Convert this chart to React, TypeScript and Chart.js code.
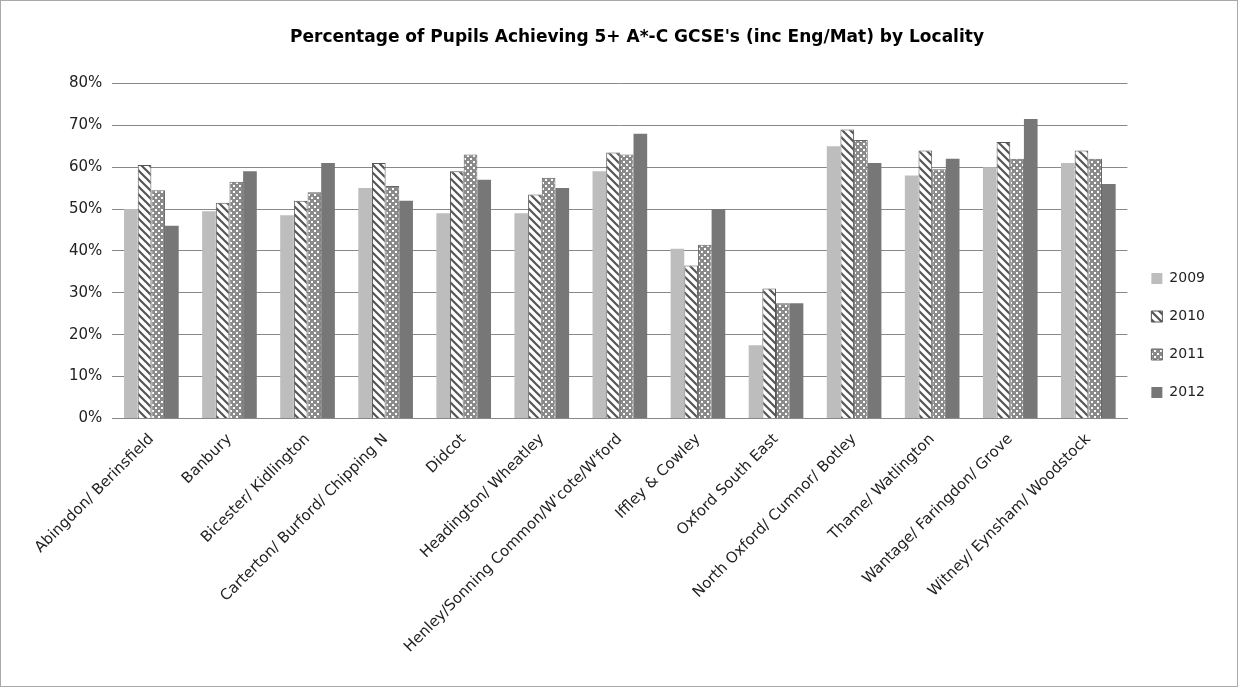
import { useEffect, useRef } from 'react';
import { Chart, registerables } from 'chart.js';

Chart.register(...registerables);

const localities = [
  'Abingdon/ Berinsfield', 'Banbury', 'Bicester/ Kidlington', 'Carterton/ Burford/ Chipping N',
  'Didcot', 'Headington/ Wheatley', 'Henley/Sonning Common/W\'cote/W\'ford', 'Iffley & Cowley',
  'Oxford South East', 'North Oxford/ Cumnor/ Botley', 'Thame/ Watlington',
  'Wantage/ Faringdon/ Grove', 'Witney/ Eynsham/ Woodstock',
];
const y2009 = [50, 49.5, 48.5, 55, 49, 49, 59, 40.5, 17.5, 65, 58, 60, 61];
const y2010 = [60.5, 51.5, 52, 61, 59, 53.5, 63.5, 36.5, 31, 69, 64, 66, 64];
const y2011 = [54.5, 56.5, 54, 55.5, 63, 57.5, 63, 41.5, 27.5, 66.5, 59.5, 62, 62];
const y2012 = [46, 59, 61, 52, 57, 55, 68, 50, 27.5, 61, 62, 71.5, 56];

function stripes(): CanvasPattern | string {
  const c = document.createElement('canvas');
  c.width = 8; c.height = 8;
  const g = c.getContext('2d');
  if (!g) return '#fff';
  g.fillStyle = '#fff';
  g.fillRect(0, 0, 8, 8);
  g.strokeStyle = '#555';
  g.lineWidth = 2.2;
  g.beginPath();
  g.moveTo(-2, -2); g.lineTo(10, 10);
  g.moveTo(-6, 2); g.lineTo(2, 10);
  g.moveTo(6, -2); g.lineTo(14, 6);
  g.stroke();
  return g.createPattern(c, 'repeat') || '#fff';
}

function dots(): CanvasPattern | string {
  const c = document.createElement('canvas');
  c.width = 6; c.height = 6;
  const g = c.getContext('2d');
  if (!g) return '#999';
  g.fillStyle = '#8a8a8a';
  g.fillRect(0, 0, 6, 6);
  g.fillStyle = '#fff';
  g.fillRect(1, 1, 2, 2);
  g.fillRect(4, 4, 2, 2);
  return g.createPattern(c, 'repeat') || '#999';
}

export default function App() {
  const canvasRef = useRef<HTMLCanvasElement>(null);

  useEffect(() => {
    if (!canvasRef.current) return;
    const font = { family: 'DejaVu Sans', size: 14 };
    const chart = new Chart(canvasRef.current, {
      type: 'bar',
      data: {
        labels: localities,
        datasets: [
          { label: '2009', data: y2009, backgroundColor: '#bdbdbd', borderWidth: 0 },
          { label: '2010', data: y2010, backgroundColor: stripes(), borderColor: '#555', borderWidth: 1 },
          { label: '2011', data: y2011, backgroundColor: dots(), borderColor: '#666', borderWidth: 1 },
          { label: '2012', data: y2012, backgroundColor: '#777', borderWidth: 0 },
        ],
      },
      options: {
        animation: false,
        responsive: true,
        maintainAspectRatio: false,
        layout: { padding: { top: 10, left: 58, right: 22, bottom: 26 } },
        datasets: { bar: { barPercentage: 1, categoryPercentage: 0.7 } },
        plugins: {
          title: {
            display: true,
            text: "Percentage of Pupils Achieving 5+ A*-C GCSE's (inc Eng/Mat) by Locality",
            color: '#000',
            font: { family: 'DejaVu Sans', size: 17, weight: 'bold' },
            padding: { top: 16, bottom: 36 },
          },
          legend: {
            position: 'right',
            labels: { color: '#222', font, boxWidth: 11, boxHeight: 11, padding: 24 },
          },
          tooltip: { enabled: false },
        },
        scales: {
          x: {
            grid: { display: false },
            border: { color: '#888' },
            ticks: { color: '#222', font: { family: 'DejaVu Sans', size: 15 }, maxRotation: 45, minRotation: 45, autoSkip: false, padding: 4 },
          },
          y: {
            min: 0,
            max: 80,
            grid: { color: '#888', tickLength: 0 },
            border: { display: false },
            ticks: { stepSize: 10, color: '#222', font: { family: 'DejaVu Sans', size: 15 }, padding: 10, callback: (v) => v + '%' },
          },
        },
      },
    });
    return () => chart.destroy();
  }, []);

  return (
    <div style={{ position: 'absolute', left: 0, top: 0, width: 1236, height: 685, border: '1px solid #aaa', background: '#fff' }}>
      <canvas ref={canvasRef} />
    </div>
  );
}
